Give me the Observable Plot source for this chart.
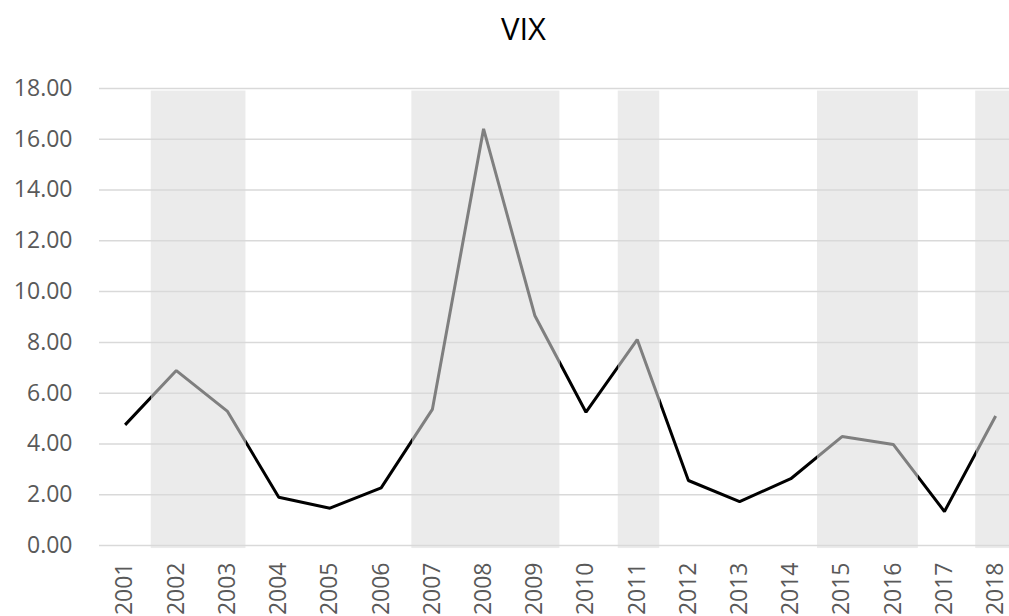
<!DOCTYPE html>
<html>
<head>
<meta charset="utf-8">
<script src="https://cdn.jsdelivr.net/npm/d3@7"></script>
<script src="https://cdn.jsdelivr.net/npm/@observablehq/plot@0.6"></script>
<style>
  html, body { margin: 0; padding: 0; background: #fff; overflow: hidden; }
  #title { height: 60px; width: 1009px; box-sizing: border-box; padding-left: 38px; text-align: center;
           font-family: "Open Sans", sans-serif; font-size: 31px; line-height: 57px; color: #000; }
</style>
</head>
<body>
<div id="title">VIX</div>
<div id="chart"></div>
<script>
const years = [2001,2002,2003,2004,2005,2006,2007,2008,2009,2010,2011,2012,2013,2014,2015,2016,2017,2018];
const vix = [4.75,6.89,5.28,1.90,1.47,2.27,5.36,16.41,9.06,5.25,8.11,2.56,1.73,2.63,4.29,3.98,1.34,5.10];
const shadeStart = [2001.51, 2006.60, 2010.63, 2014.52, 2017.61];
const shadeEnd   = [2003.36, 2009.49, 2011.44, 2016.49, 2018.27];
const yTicks = [0,2,4,6,8,10,12,14,16,18];

const data = years.map((year, i) => ({year, value: vix[i]}));
const shades = shadeStart.map((s, i) => ({x1: s, x2: shadeEnd[i]}));

const W = 1009;
const gradMark = (index, scales) => {
  const ns = "http://www.w3.org/2000/svg";
  const defs = document.createElementNS(ns, "defs");
  const g = document.createElementNS(ns, "linearGradient");
  g.setAttribute("id", "vixgrad");
  g.setAttribute("gradientUnits", "userSpaceOnUse");
  g.setAttribute("x1", 0); g.setAttribute("x2", W);
  g.setAttribute("y1", 0); g.setAttribute("y2", 0);
  const addStop = (off, col) => {
    const s = document.createElementNS(ns, "stop");
    s.setAttribute("offset", Math.max(0, Math.min(1, off)));
    s.setAttribute("stop-color", col);
    g.appendChild(s);
  };
  addStop(0, "#000");
  shades.forEach(d => {
    const a = scales.x(d.x1) / W, b = scales.x(d.x2) / W;
    addStop(a, "#000"); addStop(a, "#7f7f7f");
    addStop(b, "#7f7f7f"); addStop(b, "#000");
  });
  addStop(1, "#000");
  defs.appendChild(g);
  return defs;
};

const chart = Plot.plot({
  width: W,
  height: 556,
  marginTop: 28,
  marginBottom: 71,
  marginLeft: 99,
  marginRight: 0,
  style: {fontFamily: "Open Sans, sans-serif", fontSize: "23px", color: "#595959", background: "#fff"},
  x: {domain: [2000.5, 2018.27], axis: null},
  y: {domain: [0, 18], axis: null},
  marks: [
    Plot.rectY(shades, {x1: "x1", x2: "x2", y1: -0.12, y2: 17.9, fill: "#ebebeb"}),
    Plot.ruleY(yTicks, {stroke: "#d9d9d9", strokeWidth: 1.5}),
    Plot.axisY({ticks: yTicks, tickFormat: d3.format(".2f"), tickSize: 0, tickPadding: 27, fill: "#595959", fontSize: 23, label: null}),
    Plot.axisX({ticks: years, tickFormat: d => String(d), tickSize: 0, tickPadding: 17, tickRotate: -90, fill: "#595959", fontSize: 23, label: null}),
    gradMark,
    Plot.line(data, {x: "year", y: "value", stroke: "url(#vixgrad)", strokeWidth: 3, strokeLinejoin: "miter", strokeLinecap: "butt"})
  ]
});
document.getElementById("chart").appendChild(chart);
</script>
</body>
</html>
